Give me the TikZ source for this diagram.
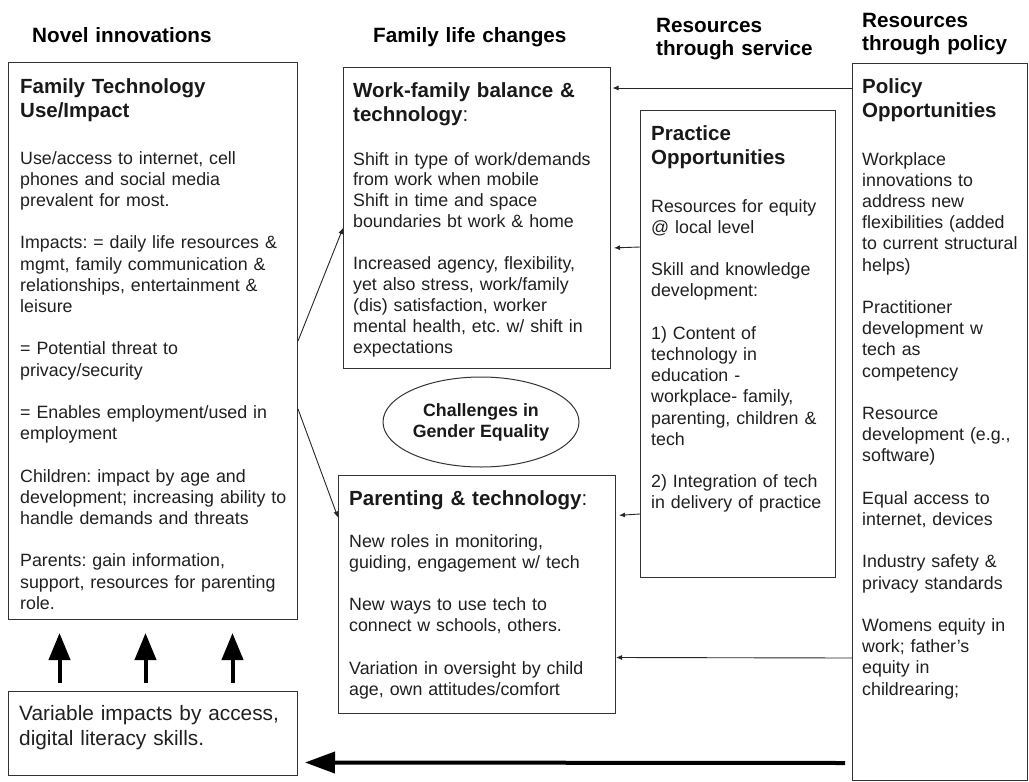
\documentclass[tikz,border=0pt]{standalone}
\usepackage{fontspec}
\setmainfont{Liberation Sans}
\usetikzlibrary{arrows.meta,shapes.geometric}
\frenchspacing
\newcommand{\bodyfont}{\fontsize{17.8pt}{21.2pt}\selectfont\frenchspacing}
\newcommand{\ttlfont}{\fontsize{20.5pt}{24.5pt}\selectfont\bfseries}
\newcommand{\hdfont}{\fontsize{20.7pt}{23pt}\selectfont\bfseries}
\newcommand{\bigbodyfont}{\fontsize{20.8pt}{25pt}\selectfont}
\begin{document}
\begin{tikzpicture}[x=1pt,y=-1pt,
  box/.style={draw=black!80, line width=1pt, anchor=north west, inner sep=0pt},
  txt/.style={anchor=base west, inner sep=0pt, align=left, text width=300pt, text=black!88, font=\bodyfont},
  ttl/.style={anchor=base west, inner sep=0pt, align=left, text width=300pt, text=black!90, font=\ttlfont},
  hdr/.style={anchor=base west, inner sep=0pt, align=left, text width=300pt, text=black, font=\hdfont},
  thinarrow/.style={draw=black!85, line width=0.9pt, -{Latex[length=6pt,width=5pt]}},
  bigarrow/.style={draw=black, line width=4pt, -{Triangle[length=30pt,width=21pt]}},
  bigup/.style={draw=black, line width=4pt, -{Triangle[length=27pt,width=21pt]}}
]
\useasboundingbox (0,0) rectangle (1029,782);

% headers
\node[hdr] (h1) at (32,42) {Novel innovations};
\node[hdr] (h2) at (373,42) {Family life changes};
\node[hdr] (h3) at (656,32) {Resources\\through service};
\node[hdr] (h4) at (862,27) {Resources\\through policy};

% boxes
\node[box, minimum width=289pt, minimum height=557pt] (ft) at (8,62) {};
\node[box, minimum width=267pt, minimum height=301pt] (wf) at (343,67) {};
\node[box, minimum width=195pt, minimum height=467pt] (pr) at (640,110) {};
\node[box, minimum width=175pt, minimum height=717pt] (po) at (852,63) {};
\node[box, minimum width=277pt, minimum height=238pt] (pa) at (338,475) {};
\node[box, minimum width=289pt, minimum height=84pt] (vi) at (8,691) {};
\node[ellipse, draw=black!80, line width=1pt, minimum width=196pt, minimum height=90pt, inner sep=0pt,
      align=center, font=\fontsize{17.8pt}{21pt}\selectfont\bfseries, text=black!90] (ge) at (481,422)
      {Challenges in\\Gender Equality};

% texts
\node[ttl] (ftT) at (20,93) {Family Technology\\Use/Impact};
\node[txt] (ftB) at (20,164) {Use/access to internet, cell\\phones and social media\\prevalent for most.\\[21.2pt]Impacts: = daily life resources \&\\mgmt, family communication \&\\relationships, entertainment \&\\leisure\\[21.2pt]= Potential threat to\\privacy/security\\[21.2pt]= Enables employment/used in\\employment\\[21.2pt]Children: impact by age and\\development; increasing ability to\\handle demands and threats\\[21.2pt]Parents: gain information,\\support, resources for parenting\\role.};

\node[ttl] (wfT) at (353,97) {Work-family balance \&\\technology\textmd{:}};
\node[txt, font=\fontsize{17.8pt}{20.9pt}\selectfont\frenchspacing] (wfB) at (353,165) {Shift in type of work/demands\\from work when mobile\\Shift in time and space\\boundaries bt work \& home\\[20.9pt]Increased agency, flexibility,\\yet also stress, work/family\\(dis) satisfaction, worker\\mental health, etc. w/ shift in\\expectations};

\node[ttl] (prT) at (651,140) {Practice\\Opportunities};
\node[txt] (prB) at (651,212) {Resources for equity\\@ local level\\[21.2pt]Skill and knowledge\\development:\\[21.2pt]1) Content of\\technology in\\education -\\workplace- family,\\parenting, children \&\\tech\\[21.2pt]2) Integration of tech\\in delivery of practice};

\node[ttl] (poT) at (862,93) {Policy\\Opportunities};
\node[txt] (poB) at (862,165) {Workplace\\innovations to\\address new\\flexibilities (added\\to current structural\\helps)\\[21.2pt]Practitioner\\development w\\tech as\\competency\\[21.2pt]Resource\\development (e.g.,\\software)\\[21.2pt]Equal access to\\internet, devices\\[21.2pt]Industry safety \&\\privacy standards\\[21.2pt]Womens equity in\\work; father’s\\equity in\\childrearing;};

\node[ttl] (paT) at (349,505) {Parenting \& technology\textmd{:}};
\node[txt] (paB) at (349,547) {New roles in monitoring,\\guiding, engagement w/ tech\\[21.2pt]New ways to use tech to\\connect w schools, others.\\[21.2pt]Variation in oversight by child\\age, own attitudes/comfort};

\node[txt, font=\bigbodyfont] (viB) at (19,720) {Variable impacts by access,\\digital literacy skills.};

% connectors
\draw[thinarrow] (ft.east) -- ([yshift=-10pt]wf.west);
\draw[thinarrow] ([yshift=-68pt]ft.east) -- ([yshift=77pt]pa.west);
\draw[thinarrow, shorten >=1.5pt] ([yshift=-25pt]po.north west) -- ([yshift=-21pt]wf.north east);
\draw[thinarrow, shorten >=3pt] ([yshift=-137pt]pr.north west) -- ([yshift=-30pt]wf.east);
\draw[thinarrow, shorten >=3pt] ([yshift=64pt]pr.south west) -- ([yshift=79pt]pa.east);
\draw[thinarrow] ([yshift=-236pt]po.west) -- ([yshift=-63pt]pa.east);

\draw[bigup] ([xshift=-93.5pt,yshift=8pt]vi.north) -- ([xshift=-93.5pt,yshift=-13pt]ft.south);
\draw[bigup] ([xshift=-7.5pt,yshift=8pt]vi.north) -- ([xshift=-7.5pt,yshift=-13pt]ft.south);
\draw[bigup] ([xshift=79.5pt,yshift=8pt]vi.north) -- ([xshift=79.5pt,yshift=-13pt]ft.south);
\draw[bigarrow] ([xshift=-7pt,yshift=18pt]po.south west) -- ([xshift=7pt,yshift=-29pt]vi.east);
\end{tikzpicture}
\end{document}
